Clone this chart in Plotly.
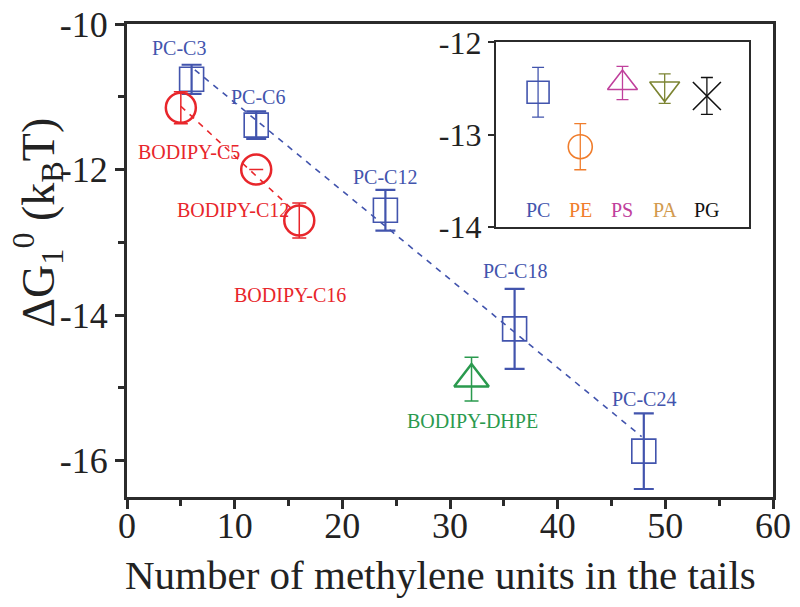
import plotly.graph_objects as go

# main panel: free energy vs number of methylene units
pc_names = ["PC-C3", "PC-C6", "PC-C12", "PC-C18", "PC-C24"]
pc_x = [6, 12, 24, 36, 48]
pc_y = [-10.76, -11.39, -12.56, -14.19, -15.87]
pc_err = [0.20, 0.19, 0.28, 0.55, 0.52]

bod_names = ["BODIPY-C5", "BODIPY-C12", "BODIPY-C16"]
bod_x = [5, 12, 16]
bod_y = [-11.15, -12.0, -12.70]
bod_err = [0.22, 0.0, 0.24]

dhpe_name = "BODIPY-DHPE"
dhpe_x = [32]
dhpe_y = [-14.88]
dhpe_err = [0.30]

# dashed guide lines
pc_fit_x = [6.3, 47.8]
pc_fit_y = [-10.63, -15.67]
bod_fit_x = [5.0, 15.3]
bod_fit_y = [-11.13, -12.54]

# inset: head groups
head_names = ["PC", "PE", "PS", "PA", "PG"]
head_x = [1, 2, 3, 4, 5]
head_y = [-12.54, -13.13, -12.44, -12.50, -12.58]
head_err = [0.27, 0.25, 0.18, 0.16, 0.20]

BLUE = "#4254ad"
RED = "#e8262b"
GREEN = "#2a9a4e"
FONT = "Liberation Serif"
AXIS = "#2b2b2b"

fig = go.Figure()

fig.add_trace(go.Scatter(
    x=pc_fit_x, y=pc_fit_y, mode="lines",
    line=dict(color=BLUE, width=1.6, dash="6px,6px"), hoverinfo="skip"))
fig.add_trace(go.Scatter(
    x=bod_fit_x, y=bod_fit_y, mode="lines",
    line=dict(color=RED, width=1.6, dash="6px,6px"), hoverinfo="skip"))

fig.add_trace(go.Scatter(
    x=pc_x, y=pc_y, mode="markers", text=pc_names,
    marker=dict(symbol="square-open", size=24, color=BLUE, line=dict(width=1.6)),
    error_y=dict(type="data", array=pc_err, color=BLUE, thickness=2.2, width=10)))
fig.add_trace(go.Scatter(
    x=bod_x, y=bod_y, mode="markers", text=bod_names,
    marker=dict(symbol="circle-open", size=30, color=RED, line=dict(width=2.5)),
    error_y=dict(type="data", array=bod_err, color=RED, thickness=1.5, width=7)))
fig.add_trace(go.Scatter(
    x=dhpe_x, y=dhpe_y, mode="markers", text=[dhpe_name],
    marker=dict(symbol="triangle-up-open", size=30, color=GREEN, line=dict(width=2.5)),
    error_y=dict(type="data", array=dhpe_err, color=GREEN, thickness=1.5, width=7)))

# inset traces
head_colors = [BLUE, "#f07d2c", "#c0409c", "#7c8432", "#111111"]
head_label_colors = [BLUE, "#f07d2c", "#c0409c", "#d29a4e", "#111111"]
head_symbols = ["square-open", "circle-open", "triangle-up-open", "triangle-down-open", "x-thin-open"]
head_sizes = [22, 24, 26, 26, 28]
for i in range(len(head_names)):
    fig.add_trace(go.Scatter(
        x=[head_x[i]], y=[head_y[i]], mode="markers", xaxis="x2", yaxis="y2",
        marker=dict(symbol=head_symbols[i], size=head_sizes[i], color=head_colors[i],
                    line=dict(width=1.6, color=head_colors[i])),
        error_y=dict(type="data", array=[head_err[i]], color=head_colors[i],
                     thickness=1.3, width=6)))

annotations = []
label_pos = {
    "PC-C3": (4.8, -10.33), "PC-C6": (12.2, -11.0), "PC-C12": (24, -12.1),
    "PC-C18": (36, -13.4), "PC-C24": (48, -15.16),
    "BODIPY-C5": (5.8, -11.76), "BODIPY-C12": (9.8, -12.55),
    "BODIPY-C16": (15.1, -13.72), "BODIPY-DHPE": (32.1, -15.45),
}
for name, (lx, ly) in label_pos.items():
    color = BLUE if name.startswith("PC") else (GREEN if name == dhpe_name else RED)
    annotations.append(dict(x=lx, y=ly, text=name, showarrow=False,
                            font=dict(family=FONT, size=20, color=color)))
for i, name in enumerate(head_names):
    annotations.append(dict(x=head_x[i], y=-13.82, xref="x2", yref="y2", text=name,
                            showarrow=False,
                            font=dict(family=FONT, size=20, color=head_label_colors[i])))
annotations.append(dict(
    x=-0.138, y=0.58, xref="paper", yref="paper", textangle=-90, showarrow=False,
    xanchor="center", yanchor="middle",
    text="ΔG<sub>1</sub><sup>0</sup> (k<sub>B</sub>T)",
    font=dict(family=FONT, size=46, color="#222222")))
annotations.append(dict(
    x=0.485, y=-0.165, xref="paper", yref="paper", showarrow=False,
    xanchor="center", yanchor="middle",
    text="Number of methylene units in the tails",
    font=dict(family=FONT, size=41, color="#222222")))

# the page body adds an 8px offset, so the figure is 8px smaller each way
fig.update_layout(
    width=792, height=599,
    margin=dict(l=119, r=27, t=16, b=110),
    paper_bgcolor="white", plot_bgcolor="white",
    showlegend=False,
    font=dict(family=FONT, color="#222222", size=34),
    annotations=annotations,
    xaxis=dict(
        range=[0, 60], tickvals=[0, 10, 20, 30, 40, 50, 60],
        ticks="outside", ticklen=9, tickwidth=3, tickcolor=AXIS,
        minor=dict(tickvals=[5, 15, 25, 35, 45, 55], ticks="outside",
                   ticklen=6, tickwidth=3, tickcolor=AXIS),
        showline=True, linewidth=3, linecolor=AXIS, mirror=True,
        showgrid=False, zeroline=False, automargin=False,
        ticklabeloverflow="allow", ticklabelstandoff=-14,
        tickfont=dict(family=FONT, size=36),
    ),
    yaxis=dict(
        range=[-16.5, -10], tickvals=[-16, -14, -12, -10],
        ticktext=["-16", "-14", "-12", "-10"],
        ticks="outside", ticklen=9, tickwidth=3, tickcolor=AXIS,
        minor=dict(tickvals=[-15, -13, -11], ticks="outside",
                   ticklen=6, tickwidth=3, tickcolor=AXIS),
        showline=True, linewidth=3, linecolor=AXIS, mirror=True,
        showgrid=False, zeroline=False, automargin=False,
        ticklabeloverflow="allow",
        tickfont=dict(family=FONT, size=36),
    ),
    xaxis2=dict(
        domain=[0.571, 0.963], anchor="y2", range=[0, 6],
        showticklabels=False, ticks="",
        showline=True, linewidth=2, linecolor=AXIS, mirror=True,
        showgrid=False, zeroline=False, automargin=False,
    ),
    yaxis2=dict(
        domain=[0.571, 0.961], anchor="x2", range=[-14, -12],
        tickvals=[-14, -13, -12], ticktext=["-14", "-13", "-12"],
        ticks="outside", ticklen=6, tickwidth=2, tickcolor=AXIS,
        showline=True, linewidth=2, linecolor=AXIS, mirror=True,
        showgrid=False, zeroline=False, automargin=False,
        ticklabeloverflow="allow",
        tickfont=dict(family=FONT, size=32),
    ),
)

fig.write_html("out.html")
